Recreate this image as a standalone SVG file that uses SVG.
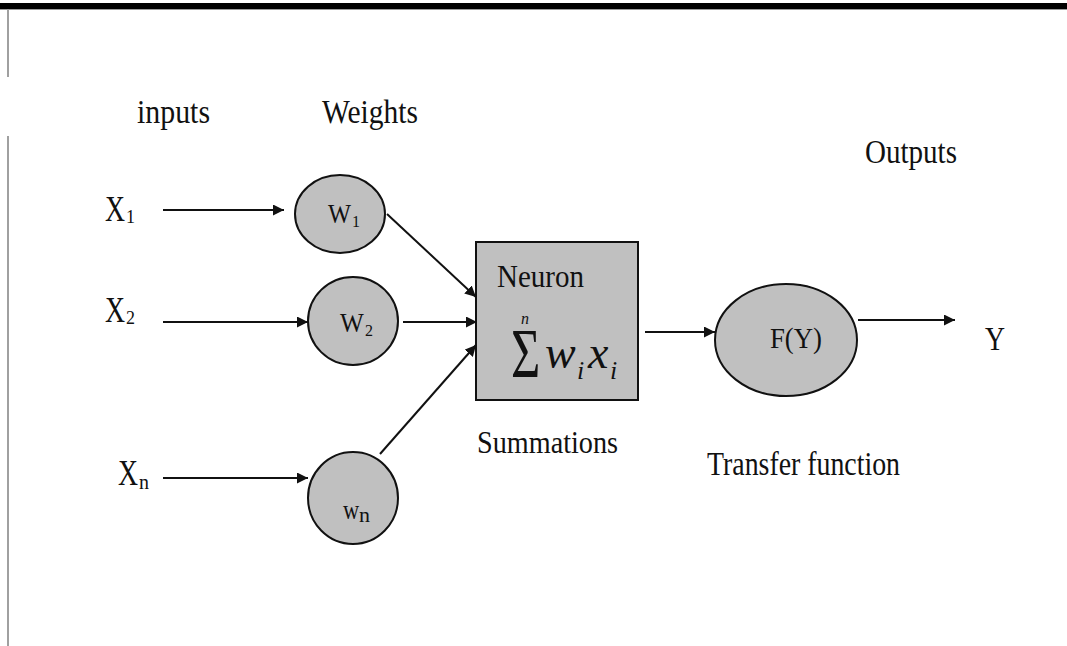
<svg xmlns="http://www.w3.org/2000/svg" width="1067" height="646" viewBox="0 0 1067 646">
<defs>
<style>
.t{font-family:"Liberation Serif","Times New Roman",serif;fill:#111;}
.node{fill:#c0c0c0;stroke:#111;stroke-width:2;}
.conn{stroke:#111;stroke-width:2;fill:none;marker-end:url(#ah);}
</style>
<marker id="ah" viewBox="0 0 10 10" refX="10" refY="5" markerWidth="11" markerHeight="11" markerUnits="userSpaceOnUse" orient="auto">
<path d="M0,0 L10,5 L0,10 z" fill="#111"/>
</marker>
</defs>
<rect width="1067" height="646" fill="#fff"/>
<g id="frame">
<rect x="0" y="3" width="1067" height="6" fill="#000"/>
<rect x="0" y="9" width="1067" height="1" fill="#999"/>
<rect x="7" y="9" width="2" height="68" fill="#a0a0a0"/>
<rect x="7" y="136" width="2" height="510" fill="#a0a0a0"/>
</g>
<g id="labels">
<text class="t" x="137" y="123" font-size="34" textLength="73" lengthAdjust="spacingAndGlyphs">inputs</text>
<text class="t" x="322" y="123" font-size="34" textLength="96" lengthAdjust="spacingAndGlyphs">Weights</text>
<text class="t" x="865" y="163" font-size="34" textLength="92" lengthAdjust="spacingAndGlyphs">Outputs</text>
<text class="t" x="477" y="453" font-size="32" textLength="141" lengthAdjust="spacingAndGlyphs">Summations</text>
<text class="t" x="707" y="475" font-size="33" textLength="193" lengthAdjust="spacingAndGlyphs">Transfer function</text>
</g>
<g id="input-x1">
<text class="t" font-size="36" transform="translate(105,221) scale(0.77,1)">X</text>
<text class="t" x="126" y="223" font-size="18">1</text>
</g>
<g id="input-x2">
<text class="t" font-size="36" transform="translate(105,322) scale(0.77,1)">X</text>
<text class="t" x="126" y="324" font-size="18">2</text>
</g>
<g id="input-xn">
<text class="t" font-size="36" transform="translate(118,485) scale(0.77,1)">X</text>
<text class="t" x="139" y="489" font-size="20">n</text>
</g>
<g id="w1">
<ellipse class="node" cx="340" cy="214" rx="45" ry="39"/>
<text class="t" font-size="28" transform="translate(328,223) scale(0.87,1)">W</text>
<text class="t" x="352" y="227" font-size="16">1</text>
</g>
<g id="w2">
<ellipse class="node" cx="353" cy="321" rx="45" ry="44"/>
<text class="t" font-size="28" transform="translate(340,332) scale(0.9,1)">W</text>
<text class="t" x="365" y="336" font-size="16">2</text>
</g>
<g id="wn">
<ellipse class="node" cx="353" cy="498" rx="45" ry="46"/>
<text class="t" font-size="28" transform="translate(343,519) scale(0.8,1)">w</text>
<text class="t" x="359" y="522" font-size="22">n</text>
</g>
<g id="neuron">
<rect class="node" x="476" y="242" width="162" height="158"/>
<text class="t" x="497" y="287" font-size="32" textLength="87" lengthAdjust="spacingAndGlyphs">Neuron</text>
<text class="t" font-size="70" transform="translate(511,377) scale(0.72,1)">Σ</text>
<text class="t" x="521" y="324" font-size="16" font-style="italic">n</text>
<text class="t" x="545" y="368" font-size="46" font-style="italic">w</text>
<text class="t" x="577" y="379" font-size="26" font-style="italic">i</text>
<text class="t" x="588" y="368" font-size="46" font-style="italic">x</text>
<text class="t" x="610" y="379" font-size="26" font-style="italic">i</text>
</g>
<g id="transfer">
<ellipse class="node" cx="786" cy="340" rx="71" ry="56"/>
<text class="t" x="770" y="348" font-size="30" textLength="52" lengthAdjust="spacingAndGlyphs">F(Y)</text>
</g>
<g id="output-y">
<text class="t" x="985" y="350" font-size="34" textLength="20" lengthAdjust="spacingAndGlyphs">Y</text>
</g>
<g id="connectors">
<line class="conn" x1="163" y1="210" x2="284" y2="210"/>
<line class="conn" x1="163" y1="322" x2="308" y2="322"/>
<line class="conn" x1="163" y1="478" x2="308" y2="478"/>
<line class="conn" x1="387" y1="214" x2="476" y2="297"/>
<line class="conn" x1="403" y1="322" x2="477" y2="322"/>
<line class="conn" x1="380" y1="454" x2="476" y2="345"/>
<line class="conn" x1="645" y1="332" x2="715" y2="332"/>
<line class="conn" x1="858" y1="320" x2="955" y2="320"/>
</g>
</svg>
